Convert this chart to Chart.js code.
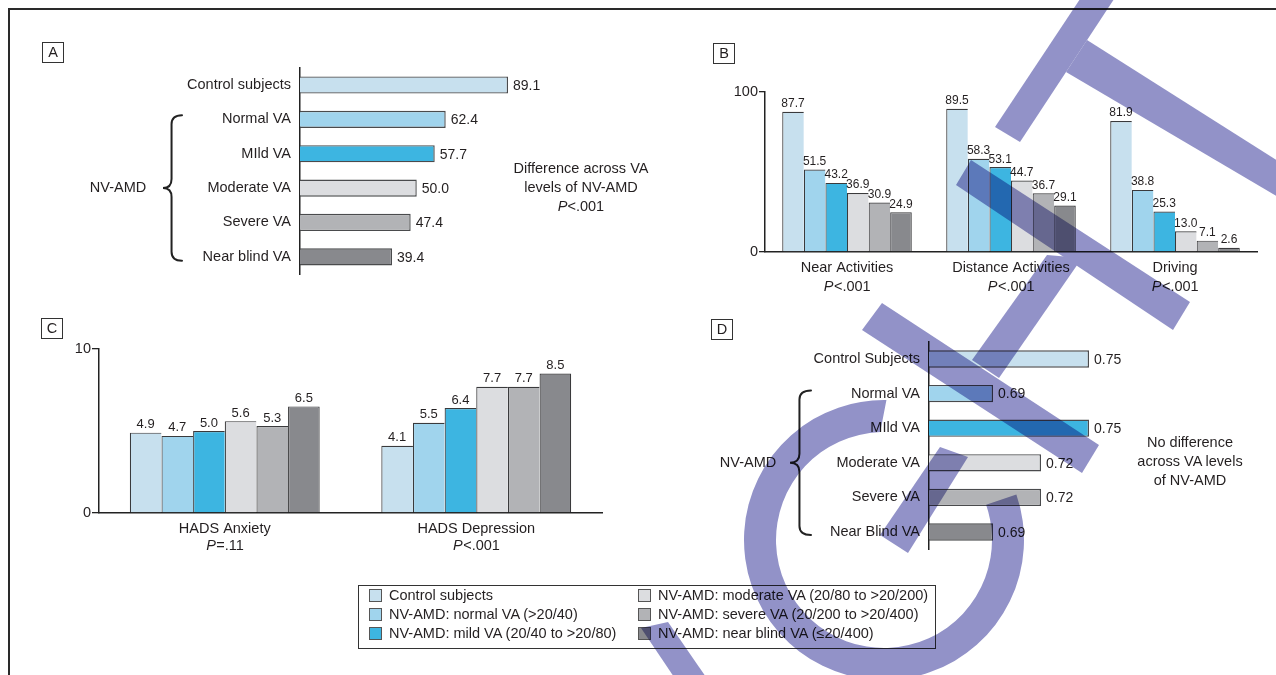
<!DOCTYPE html>
<html><head><meta charset="utf-8">
<script src="https://cdn.jsdelivr.net/npm/chart.js@4.4.1/dist/chart.umd.min.js"></script>
<style>
html,body{margin:0;padding:0;background:#fff;}
#stage{position:relative;width:1276px;height:675px;overflow:hidden;background:#fff;isolation:isolate;
  font-family:'Liberation Sans',Arial,sans-serif;color:#231f20;}
#stage canvas.chart{position:absolute;left:0;top:0;}
.frameTop{position:absolute;left:8px;top:8px;width:1268px;height:0;border-top:2px solid #2a2a2a;}
.frameLeft{position:absolute;left:8px;top:8px;width:0;height:667px;border-left:2px solid #2a2a2a;}
.pl{position:absolute;width:20px;height:19px;border:1px solid #333;font-size:14.5px;line-height:19px;text-align:center;}
.t{position:absolute;font-size:14.5px;line-height:19px;white-space:nowrap;text-align:center;}
#legend{position:absolute;left:358px;top:585px;width:576px;height:62px;border:1px solid #333;}
.sw{position:absolute;width:11px;height:11px;border:1px solid #555;}
.lt{position:absolute;font-size:14.5px;line-height:20px;white-space:nowrap;}
#wm{position:absolute;left:0;top:0;mix-blend-mode:multiply;pointer-events:none;z-index:10;}
</style>
</head>
<body>
<div id="stage">
  <div class="frameTop"></div><div class="frameLeft"></div>
  <canvas class="chart" id="cA" width="1276" height="675"></canvas>
  <canvas class="chart" id="cB" width="1276" height="675"></canvas>
  <canvas class="chart" id="cC" width="1276" height="675"></canvas>
  <canvas class="chart" id="cD" width="1276" height="675"></canvas>
  <div class="pl" style="left:42px;top:42px">A</div>
  <div class="pl" style="left:713px;top:43px">B</div>
  <div class="pl" style="left:41px;top:318px">C</div>
  <div class="pl" style="left:711px;top:319px">D</div>
  <div class="t" style="left:68px;top:178px;width:100px">NV-AMD</div>
  <div class="t" style="left:481px;top:159px;width:200px">Difference across VA<br>levels of NV-AMD<br><i>P</i>&lt;.001</div>
  <div class="t" style="left:698px;top:453px;width:100px">NV-AMD</div>
  <div class="t" style="left:1090px;top:433px;width:200px">No difference<br>across VA levels<br>of NV-AMD</div>
  <div id="legend"></div>
  <canvas id="wm" width="1276" height="675"></canvas>
</div>
<script>
// ---------- data ----------
const GROUP_NAMES = ['Control subjects','NV-AMD: normal VA (>20/40)','NV-AMD: mild VA (20/40 to >20/80)',
  'NV-AMD: moderate VA (20/80 to >20/200)','NV-AMD: severe VA (20/200 to >20/400)','NV-AMD: near blind VA (\u226420/400)'];

const A_CATEGORIES = ['Control subjects','Normal VA','MIld VA','Moderate VA','Severe VA','Near blind VA'];
const A_VALUES = [89.1, 62.4, 57.7, 50.0, 47.4, 39.4];

const B_CATEGORIES = ['Near Activities','Distance Activities','Driving'];
const B_PVALUES = ['<.001','<.001','<.001'];
const B_CONTROL = [87.7, 89.5, 81.9];
const B_NORMAL = [51.5, 58.3, 38.8];
const B_MILD = [43.2, 53.1, 25.3];
const B_MODERATE = [36.9, 44.7, 13.0];
const B_SEVERE = [30.9, 36.7, 7.1];
const B_NEARBLIND = [24.9, 29.1, 2.6];
const B_TICKS = [0, 100];

const C_CATEGORIES = ['HADS Anxiety','HADS Depression'];
const C_PVALUES = ['=.11','<.001'];
const C_CONTROL = [4.9, 4.1];
const C_NORMAL = [4.7, 5.5];
const C_MILD = [5.0, 6.4];
const C_MODERATE = [5.6, 7.7];
const C_SEVERE = [5.3, 7.7];
const C_NEARBLIND = [6.5, 8.5];
const C_TICKS = [0, 10];

const D_CATEGORIES = ['Control Subjects','Normal VA','MIld VA','Moderate VA','Severe VA','Near Blind VA'];
const D_VALUES = [0.75, 0.69, 0.75, 0.72, 0.72, 0.69];

// ---------- styles ----------
const COLORS = ['#c7e0ee','#a0d4ed','#3db5e1','#dcdde0','#b2b3b6','#88898d'];
const FONT = "'Liberation Sans',Arial,sans-serif";
const TEXT = '#231f20';
const AXIS = '#222';
const LABEL_SIZE = 14.5;
Chart.defaults.font.family = FONT;
Chart.defaults.color = TEXT;

// ---------- plugins ----------
const valueLabels = {
  id: 'valueLabels',
  afterDatasetsDraw(chart, args, o) {
    const ctx = chart.ctx;
    ctx.save();
    ctx.font = o.size + 'px ' + FONT;
    ctx.fillStyle = o.color || TEXT;
    chart.data.datasets.forEach((ds, i) => {
      chart.getDatasetMeta(i).data.forEach((bar, j) => {
        const txt = ds.data[j].toFixed(o.decimals);
        if (o.horizontal) {
          ctx.textAlign = 'left'; ctx.textBaseline = 'middle';
          ctx.fillText(txt, bar.x + o.offset, bar.y + 1);
        } else {
          ctx.textAlign = 'center'; ctx.textBaseline = 'alphabetic';
          ctx.fillText(txt, bar.x, bar.y - o.offset);
        }
      });
    });
    ctx.restore();
  }
};

const pLine = {
  id: 'pLine',
  afterDraw(chart, args, o) {
    const ctx = chart.ctx, xs = chart.scales.x;
    ctx.save();
    ctx.fillStyle = TEXT; ctx.textBaseline = 'middle'; ctx.textAlign = 'left';
    o.items.forEach((rest, i) => {
      const cx = xs.getPixelForValue(i);
      ctx.font = 'italic ' + o.size + 'px ' + FONT; const wP = ctx.measureText('P').width;
      ctx.font = o.size + 'px ' + FONT; const wR = ctx.measureText(rest).width;
      const x0 = cx - (wP + wR) / 2;
      ctx.font = 'italic ' + o.size + 'px ' + FONT; ctx.fillText('P', x0, o.y);
      ctx.font = o.size + 'px ' + FONT; ctx.fillText(rest, x0 + wP + 0.5, o.y);
    });
    ctx.restore();
  }
};

const brace = {
  id: 'brace',
  afterDraw(chart, args, o) {
    const ys = chart.scales.y, ctx = chart.ctx;
    const top = ys.getPixelForValue(o.from) - o.ext;
    const bot = ys.getPixelForValue(o.to) + o.ext;
    const mid = (top + bot) / 2;
    const x = o.tipX, w = o.width, sx = x + w * 0.45, r = 9;
    ctx.save();
    ctx.strokeStyle = AXIS; ctx.lineWidth = 2; ctx.lineCap = 'round';
    ctx.beginPath();
    ctx.moveTo(x + w, top);
    ctx.quadraticCurveTo(sx, top, sx, top + r);
    ctx.lineTo(sx, mid - r);
    ctx.quadraticCurveTo(sx, mid, x, mid);
    ctx.quadraticCurveTo(sx, mid, sx, mid + r);
    ctx.lineTo(sx, bot - r);
    ctx.quadraticCurveTo(sx, bot, x + w, bot);
    ctx.stroke();
    ctx.restore();
  }
};

const base = { responsive: false, animation: false, events: [], devicePixelRatio: 1 };

function hbar(id, cats, vals, min, max, pad, decimals, valSize, braceOpts) {
  return new Chart(document.getElementById(id), {
    type: 'bar',
    data: { labels: cats, datasets: [{ data: vals, backgroundColor: COLORS, borderColor: '#4a4b4d',
      borderWidth: 1.4, barPercentage: 0.5, categoryPercentage: 1, base: min }] },
    options: Object.assign({}, base, {
      indexAxis: 'y',
      layout: { padding: pad },
      plugins: { legend: { display: false }, tooltip: { enabled: false },
        valueLabels: { horizontal: true, offset: 5, size: valSize, decimals: decimals }, brace: braceOpts },
      scales: {
        x: { type: 'linear', min: min, max: max, display: false },
        y: { type: 'category', position: 'left', offset: true,
          grid: { display: false, drawTicks: false },
          border: { display: true, color: AXIS, width: 1.5 },
          ticks: { padding: 9, color: TEXT, font: { family: FONT, size: LABEL_SIZE } },
          afterFit(s) { s.width = 200; } }
      }
    }),
    plugins: [valueLabels, brace]
  });
}

function vbar(id, cats, series, ticks, catPct, pad, yWidth, tickLen, pItems, pY, valSize) {
  return new Chart(document.getElementById(id), {
    type: 'bar',
    data: { labels: cats, datasets: series.map((d, i) => ({
      label: GROUP_NAMES[i], data: d, backgroundColor: COLORS[i], borderColor: '#3a3a3c',
      borderWidth: i === series.length - 1 ? { top: 1.2, left: 1.2, right: 1.2, bottom: 0 } : { top: 1.2, left: 1.2, right: 0, bottom: 0 },
      borderSkipped: false, barPercentage: 1, categoryPercentage: catPct })) },
    options: Object.assign({}, base, {
      layout: { padding: pad },
      plugins: { legend: { display: false }, tooltip: { enabled: false },
        valueLabels: { horizontal: false, offset: 4.5, size: valSize, decimals: 1 },
        pLine: { items: pItems, y: pY, size: LABEL_SIZE } },
      scales: {
        x: { type: 'category', offset: true,
          grid: { display: false, drawTicks: false },
          border: { display: true, color: AXIS, width: 1.5 },
          ticks: { padding: 7, color: TEXT, font: { family: FONT, size: LABEL_SIZE }, maxRotation: 0, autoSkip: false },
          afterFit(s) { s.height = 40; } },
        y: { type: 'linear', min: ticks[0], max: ticks[ticks.length - 1],
          afterBuildTicks(s) { s.ticks = ticks.map(v => ({ value: v })); },
          grid: { display: true, drawOnChartArea: false, drawTicks: true, tickLength: tickLen, color: AXIS, lineWidth: 1.3 },
          border: { display: true, color: AXIS, width: 1.5 },
          ticks: { padding: 1, color: TEXT, font: { family: FONT, size: LABEL_SIZE } },
          afterFit(s) { s.width = yWidth; } }
      }
    }),
    plugins: [valueLabels, pLine]
  });
}

hbar('cA', A_CATEGORIES, A_VALUES, 0, 100,
  { left: 100, right: 742.5, top: 67.8, bottom: 401 }, 1, 14,
  { tipX: 163, width: 19, from: 1, to: 5, ext: 4 });

vbar('cB', B_CATEGORIES, [B_CONTROL, B_NORMAL, B_MILD, B_MODERATE, B_SEVERE, B_NEARBLIND], B_TICKS, 0.79,
  { left: 705, right: 19, top: 92, bottom: 383 }, 60, 6, B_PVALUES, 287, 12);

vbar('cC', C_CATEGORIES, [C_CONTROL, C_NORMAL, C_MILD, C_MODERATE, C_SEVERE, C_NEARBLIND], C_TICKS, 0.755,
  { left: 59, right: 674, top: 349, bottom: 122 }, 40, 7, C_PVALUES, 546, 13);

hbar('cD', D_CATEGORIES, D_VALUES, 0.65, 0.80,
  { left: 729, right: 107, top: 341.7, bottom: 125.7 }, 2, 14,
  { tipX: 790, width: 21, from: 1, to: 5, ext: 3 });

// ---------- legend ----------
(function () {
  const lg = document.getElementById('legend');
  const colX = [10, 279], rowY = [9, 28, 47];
  GROUP_NAMES.forEach((name, i) => {
    const c = Math.floor(i / 3), r = i % 3;
    const sw = document.createElement('div'); sw.className = 'sw';
    sw.style.left = colX[c] + 'px'; sw.style.top = (rowY[r] - 6) + 'px'; sw.style.background = COLORS[i];
    const tx = document.createElement('div'); tx.className = 'lt';
    tx.style.left = (colX[c] + 20) + 'px'; tx.style.top = (rowY[r] - 10) + 'px'; tx.textContent = name;
    lg.appendChild(sw); lg.appendChild(tx);
  });
})();

// ---------- watermark overlay ----------
(function () {
  const w = document.getElementById('wm').getContext('2d');
  w.fillStyle = '#9292c8';
  const polys = [
    [[1086,-10],[1120,-10],[1020,142],[995,127]],
    [[1087,40],[1300,175],[1300,210],[1066,72]],
    [[971,160],[1190,302],[1173,330],[956,185]],
    [[882,303],[1099,445],[1082,473],[862,330]],
    [[1047,255],[1082,258],[999,378],[972,360]],
    [[940,447],[968,457],[908,553],[880,535]],
    [[641,628],[668,622],[708,680],[676,680]]
  ];
  polys.forEach(p => { w.beginPath(); w.moveTo(p[0][0], p[0][1]); p.slice(1).forEach(q => w.lineTo(q[0], q[1])); w.closePath(); w.fill(); });
  const D = Math.PI / 180;
  w.beginPath();
  w.arc(884, 540, 140, -19 * D, 271 * D, false);
  w.arc(884, 540, 108, 268 * D, -19 * D, true);
  w.closePath(); w.fill();
})();
</script>
</body></html>
